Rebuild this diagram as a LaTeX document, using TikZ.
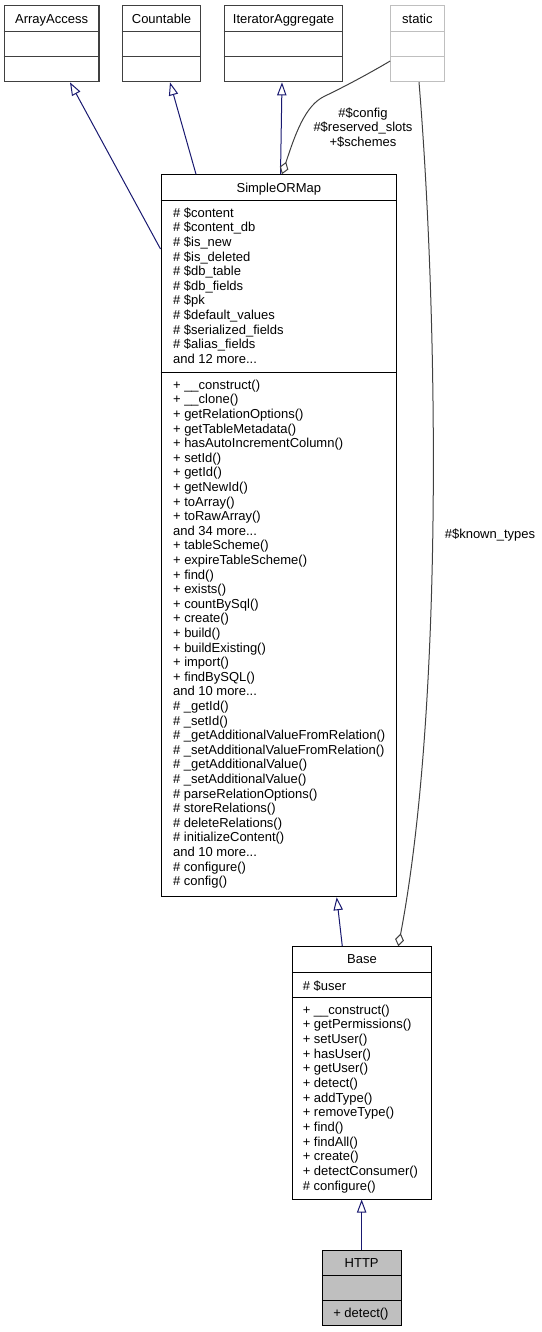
\documentclass[tikz,border=0pt]{standalone}
\usepackage{fontspec}
\setmainfont{Liberation Sans}
\usepackage{tikz}
\usetikzlibrary{positioning,arrows.meta,fit,calc}
\definecolor{inhblue}{HTML}{191970}
\definecolor{extgray}{HTML}{404040}
\definecolor{nodocgray}{HTML}{BFBFBF}
\newcommand{\mdots}{...}

\begin{document}
\begin{tikzpicture}[
    x=0.75pt, y=-0.75pt,
    every node/.style = {font=\fontsize{9.75}{11}\selectfont, inner sep=0pt},
    cls/.style        = {rectangle, draw=black, line width=0.75pt, inner sep=0pt},
    ext/.style        = {cls, draw=extgray, line width=1pt},
    nodoc/.style      = {cls, draw=nodocgray},
    hd/.style         = {anchor=base},
    mem/.style        = {anchor=base west},
    sep/.style        = {line width=0.75pt},
    inh/.style        = {-{Triangle[open, length=9.75pt, width=7pt]}, draw=inhblue, line width=0.75pt},
    agg/.style        = {{Diamond[open, length=9.75pt, width=6.75pt]}-, draw=extgray, line width=0.75pt},
    elabel/.style     = {align=center},
]
\useasboundingbox (0,0) rectangle (542,1332);

% Interfaces on top (not documented here, dark outline)
\foreach \nm/\lx/\rx/\txt in {arrayaccess/4.3/99/ArrayAccess,
                               countable/122.3/200.7/Countable,
                               iteratoragg/224.3/342.7/IteratorAggregate} {
    \node[ext, fit={(\lx,5.7) (\rx,81.7)}] (\nm) {};
    \node[hd] (\nm-name) at (\nm.north |- 0,23.8) {\txt};
    \foreach \y in {31.7, 56.7} {
        \draw[sep, extgray] (\nm.west |- 0,\y) -- (\nm.east |- 0,\y);
    }
}

% static: light grey box
\node[nodoc, fit={(390.7,5.7) (444,81.7)}] (static) {};
\node[hd] (static-name) at (static.north |- 0,23.8) {static};
\foreach \y in {31.7, 56.7} {
    \draw[sep, nodocgray] (static.west |- 0,\y) -- (static.east |- 0,\y);
}

% SimpleORMap
\node[cls, fit={(161,174.7) (396.7,896.7)}] (som) {};
\node[hd] (som-name) at (som.north |- 0,192) {SimpleORMap};
\foreach \y in {200.3, 372.3} {
    \draw[sep] (som.west |- 0,\y) -- (som.east |- 0,\y);
}
\foreach \t [count=\i from 0] in {\# \$content, \# \$content\_db, \# \$is\_new,
        \# \$is\_deleted, \# \$db\_table, \# \$db\_fields, \# \$pk,
        \# \$default\_values, \# \$serialized\_fields, \# \$alias\_fields,
        and 12 more\mdots} {
    \node[mem] (som-a\i) at (172.8, 217.3+\i*14.6) {\t};
}
\foreach \t [count=\i from 0] in {+ \_\_construct(), + \_\_clone(),
        + getRelationOptions(), + getTableMetadata(), + hasAutoIncrementColumn(),
        + setId(), + getId(), + getNewId(), + toArray(), + toRawArray(),
        and 34 more\mdots, + tableScheme(), + expireTableScheme(), + find(),
        + exists(), + countBySql(), + create(), + build(), + buildExisting(),
        + import(), + findBySQL(), and 10 more\mdots, \# \_getId(), \# \_setId(),
        \# \_getAdditionalValueFromRelation(), \# \_setAdditionalValueFromRelation(),
        \# \_getAdditionalValue(), \# \_setAdditionalValue(),
        \# parseRelationOptions(), \# storeRelations(), \# deleteRelations(),
        \# initializeContent(), and 10 more\mdots, \# configure(), \# config()} {
    \node[mem] (som-m\i) at (172.8, 389.3+\i*14.6) {\t};
}

% Base
\node[cls, fit={(292.3,946.7) (431.7,1199)}] (base) {};
\node[hd] (base-name) at (base.north |- 0,963.5) {Base};
\foreach \y in {972.3, 997.3} {
    \draw[sep] (base.west |- 0,\y) -- (base.east |- 0,\y);
}
\node[mem] (base-a0) at (302.5, 990) {\# \$user};
\foreach \t [count=\i from 0] in {+ \_\_construct(), + getPermissions(),
        + setUser(), + hasUser(), + getUser(), + detect(), + addType(),
        + removeType(), + find(), + findAll(), + create(),
        + detectConsumer(), \# configure()} {
    \node[mem] (base-m\i) at (302.5, 1014.3+\i*14.65) {\t};
}

% HTTP (the class itself, grey fill)
\node[cls, fill=nodocgray, fit={(322.3,1250) (401,1325.7)}] (http) {};
\node[hd] (http-name) at (http.north |- 0,1267) {HTTP};
\foreach \y in {1275, 1300} {
    \draw[sep] (http.west |- 0,\y) -- (http.east |- 0,\y);
}
\node[mem] (http-m0) at (333, 1317.3) {+ detect()};

% Inheritance
\draw[inh] (som.west |- 0,249) -- (arrayaccess.south -| 70,0);
\draw[inh] (som.north -| 196,0) -- (countable.south -| 170,0);
\draw[inh] (som.north -| 280.5,0) -- (iteratoragg.south -| 282,0);
\draw[inh] (base.north -| 342.3,0) -- (som.south -| 336.7,0);
\draw[inh] (http.north) -- (http.north |- base.south);

% Usage of static members
\draw[agg] (som.north -| 282,0) .. controls (295,135) and (305,105) .. (325,96)
           .. controls (350,84) and (375,70) .. (static.west |- 0,61);
\node[elabel] (som-static-lbl) at (363,127.5) {\#\$config\\\#\$reserved\_slots\\+\$schemes};
\draw[agg] (base.north -| 398.3,0) .. controls (445,700) and (437,300) .. (static.south -| 419,0);
\node (base-static-lbl) at (490,535) {\#\$known\_types};

\end{tikzpicture}
\end{document}
